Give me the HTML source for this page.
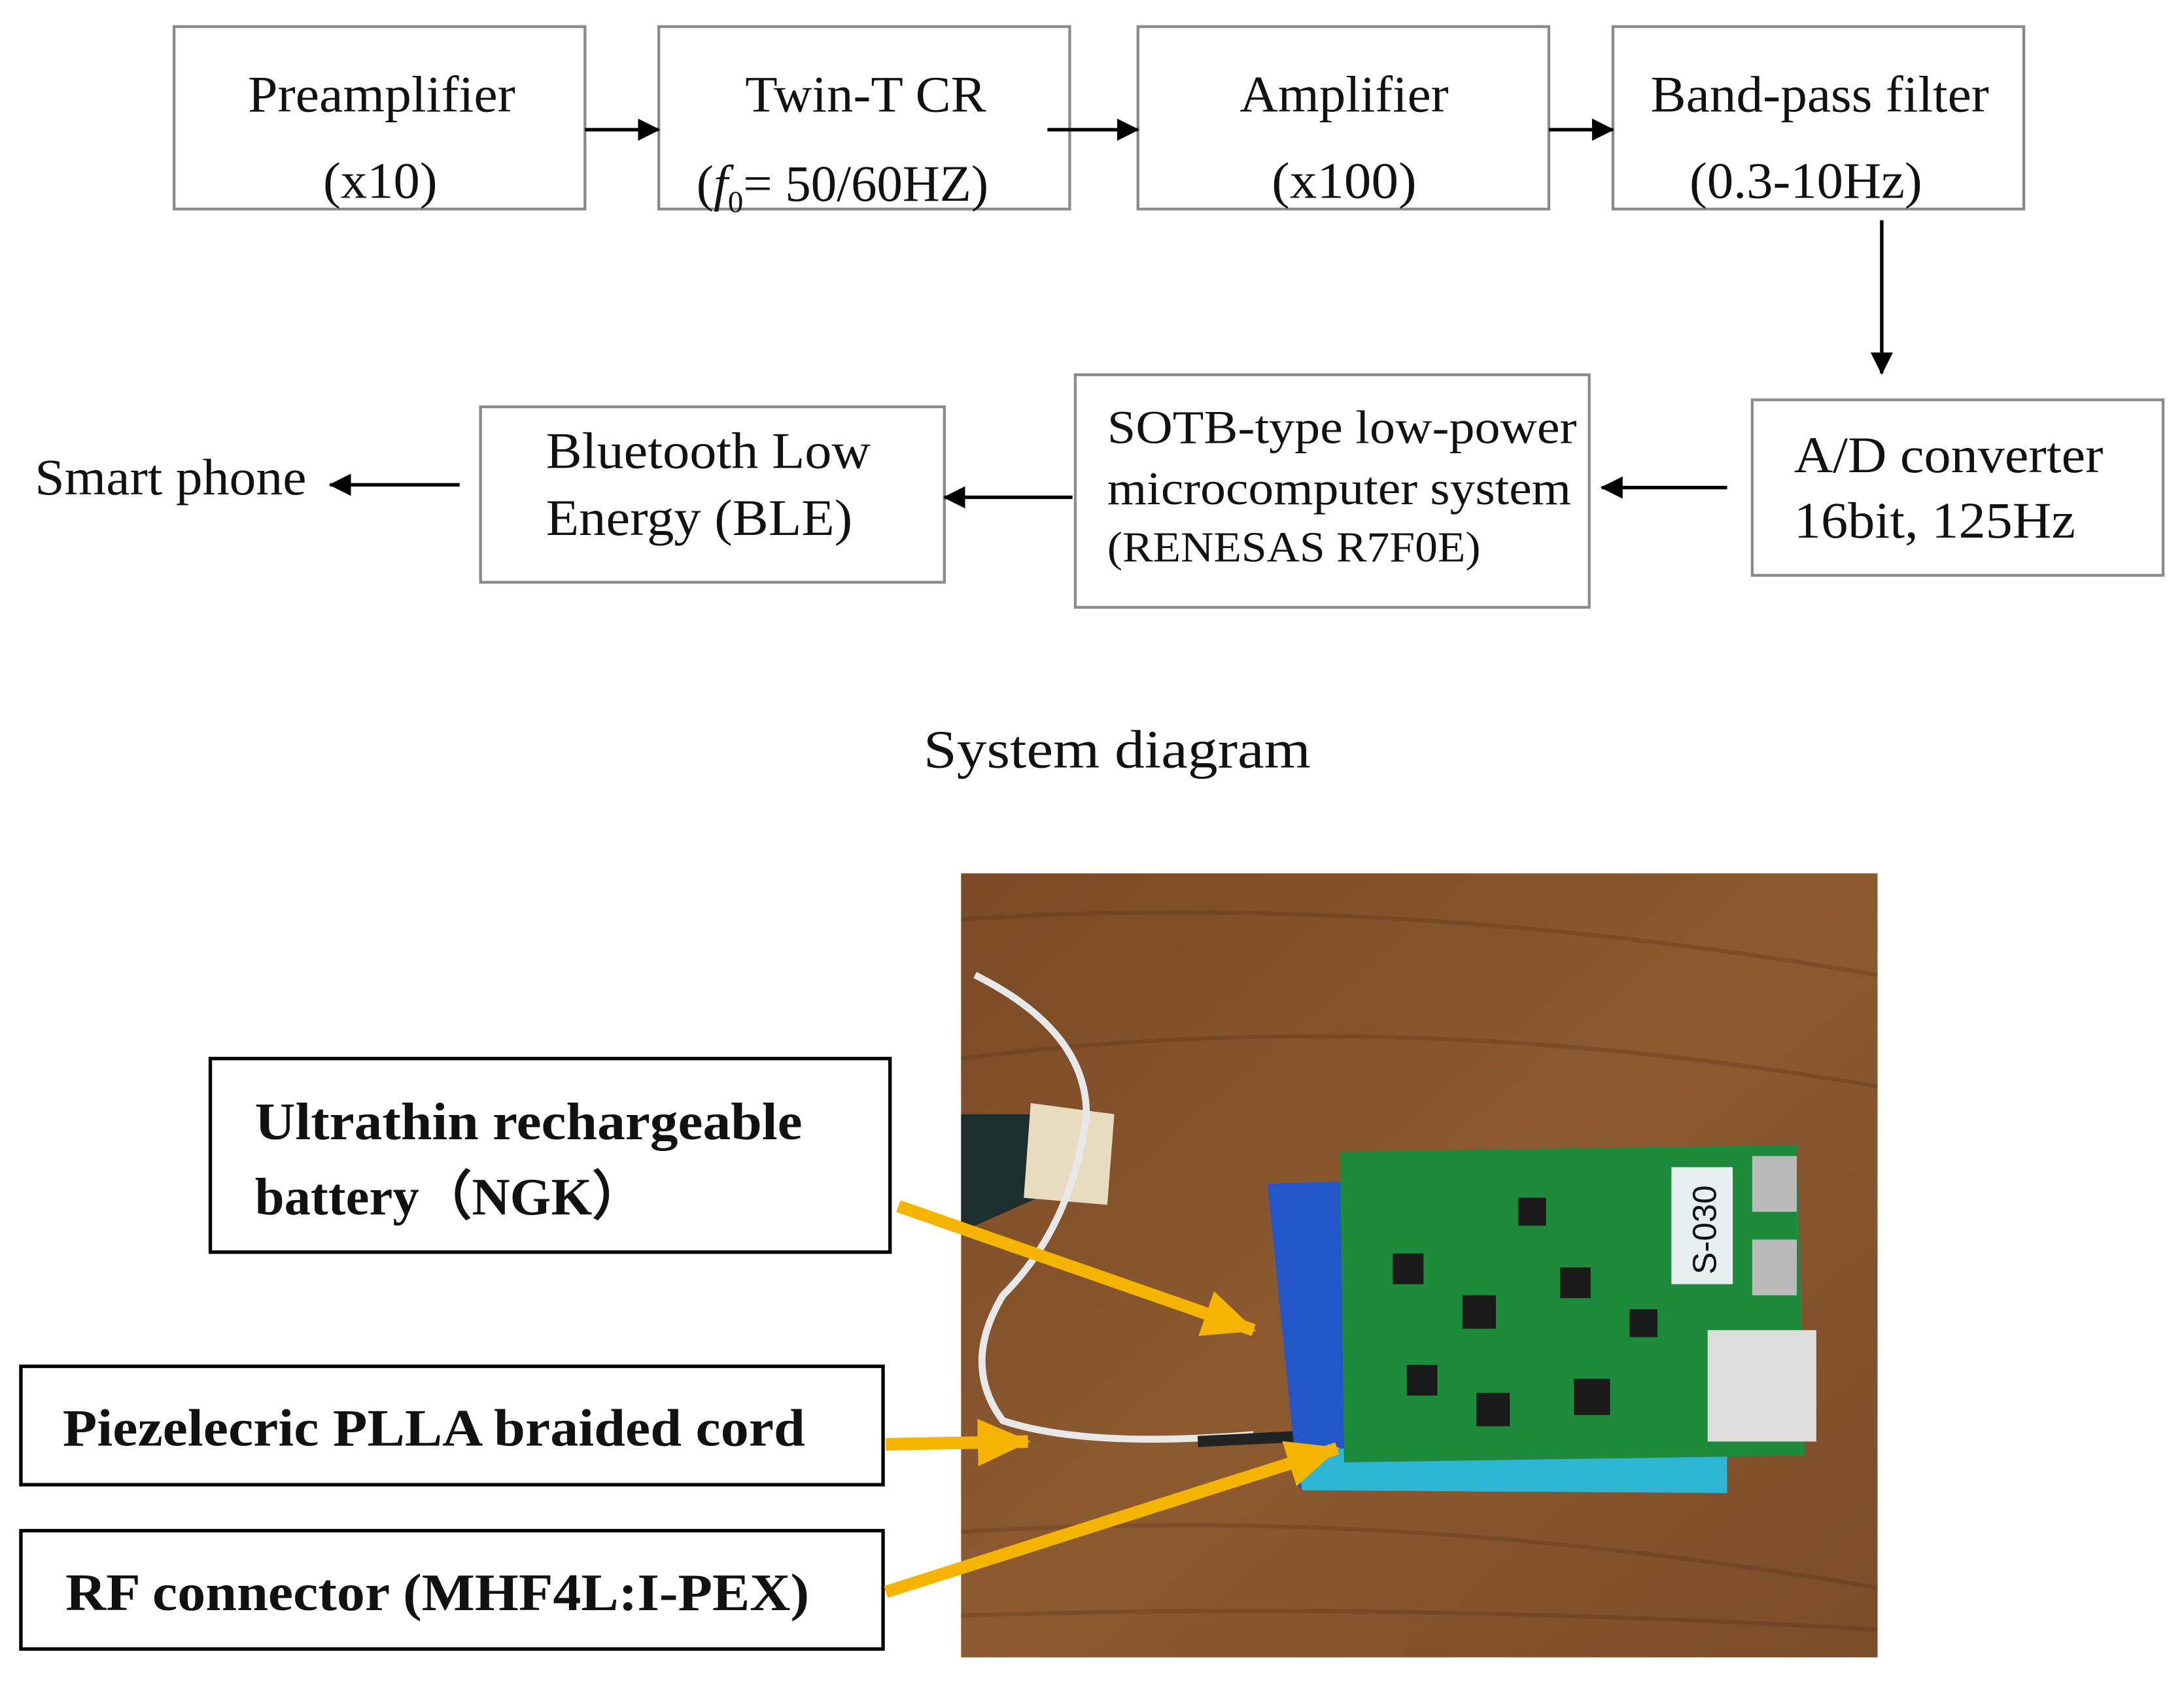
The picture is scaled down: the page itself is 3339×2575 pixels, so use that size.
<!DOCTYPE html>
<html><head><meta charset="utf-8"><style>
html,body{margin:0;padding:0;background:#fff;}
svg{display:block;}
text{font-family:"Liberation Serif",serif;fill:#111;}
</style></head><body>
<svg width="3339" height="2575" viewBox="0 0 1568 1209" xmlns="http://www.w3.org/2000/svg">
<defs>
<marker id="ah" markerWidth="16" markerHeight="16" refX="15" refY="8" orient="auto" markerUnits="userSpaceOnUse">
<path d="M0,0 L16,8 L0,16 z" fill="#000"/></marker>
<marker id="ya" markerWidth="40" markerHeight="34" refX="36" refY="17" orient="auto" markerUnits="userSpaceOnUse">
<path d="M0,0 L38,17 L0,34 z" fill="#f5b400"/></marker>
<linearGradient id="wood" x1="0" y1="0" x2="1" y2="1">
<stop offset="0" stop-color="#7a4a26"/><stop offset="0.5" stop-color="#8d5a30"/><stop offset="1" stop-color="#7b4c2a"/></linearGradient>
</defs>
<g fill="none" stroke="#8a8a8a" stroke-width="2">
<rect x="125" y="19" width="295" height="131"/>
<rect x="473" y="19" width="295" height="131"/>
<rect x="817" y="19" width="295" height="131"/>
<rect x="1158" y="19" width="295" height="131"/>
<rect x="1258" y="287" width="295" height="126"/>
<rect x="772" y="269" width="369" height="167"/>
<rect x="345" y="292" width="333" height="126"/>
</g>
<g stroke="#000" stroke-width="2.5" marker-end="url(#ah)">
<line x1="420" y1="93" x2="473" y2="93"/>
<line x1="752" y1="93" x2="817" y2="93"/>
<line x1="1112" y1="93" x2="1158" y2="93"/>
<line x1="1351" y1="158" x2="1351" y2="268"/>
<line x1="1240" y1="350" x2="1150" y2="350"/>
<line x1="770" y1="357" x2="678" y2="357"/>
<line x1="330" y1="348" x2="237" y2="348"/>
</g>
<g font-size="37" lengthAdjust="spacingAndGlyphs">
<text x="178" y="80" textLength="192" lengthAdjust="spacingAndGlyphs">Preamplifier</text>
<text x="232" y="142" textLength="82" lengthAdjust="spacingAndGlyphs">(x10)</text>
<text x="535" y="80" textLength="173" lengthAdjust="spacingAndGlyphs">Twin-T CR</text>
<text x="500" y="144">(<tspan font-style="italic">f</tspan><tspan font-size="22" dy="8">0</tspan><tspan dy="-8">= 50/60HZ)</tspan></text>
<text x="890" y="80" textLength="150" lengthAdjust="spacingAndGlyphs">Amplifier</text>
<text x="913" y="142" textLength="104" lengthAdjust="spacingAndGlyphs">(x100)</text>
<text x="1185" y="80" textLength="243" lengthAdjust="spacingAndGlyphs">Band-pass filter</text>
<text x="1213" y="142" textLength="167" lengthAdjust="spacingAndGlyphs">(0.3-10Hz)</text>
<text x="1288" y="339" textLength="222" lengthAdjust="spacingAndGlyphs">A/D converter</text>
<text x="1288" y="386" textLength="202" lengthAdjust="spacingAndGlyphs">16bit, 125Hz</text>
<text x="795" y="318" font-size="34" textLength="337" lengthAdjust="spacingAndGlyphs">SOTB-type low-power</text>
<text x="795" y="362" font-size="34" textLength="333" lengthAdjust="spacingAndGlyphs">microcomputer system</text>
<text x="795" y="403" font-size="31" textLength="268" lengthAdjust="spacingAndGlyphs">(RENESAS R7F0E)</text>
<text x="392" y="336" textLength="233" lengthAdjust="spacingAndGlyphs">Bluetooth Low</text>
<text x="392" y="384" textLength="220" lengthAdjust="spacingAndGlyphs">Energy (BLE)</text>
<text x="25" y="355" textLength="195" lengthAdjust="spacingAndGlyphs">Smart phone</text>
<text x="663" y="551" font-size="39" textLength="278" lengthAdjust="spacingAndGlyphs">System diagram</text>
</g>

<!-- photo -->
<rect x="690" y="627" width="658" height="563" fill="url(#wood)"/>
<g opacity="0.25" stroke="#4a2a12" stroke-width="3" fill="none">
<path d="M690,660 Q1000,640 1348,700"/><path d="M690,760 Q1000,720 1348,780"/>
<path d="M690,1100 Q1000,1080 1348,1140"/><path d="M690,1160 Q1000,1150 1348,1170"/>
</g>
<path d="M690,800 L745,800 L745,860 L700,880 L690,880 z" fill="#1d2f2c"/>
<path d="M740,792 L800,800 L795,865 L735,860 z" fill="#e8dcc0"/>
<path d="M700,700 Q780,740 780,800 Q770,880 720,930 Q690,980 720,1020 Q780,1040 900,1030" stroke="#e8e8e8" stroke-width="5" fill="none"/>
<path d="M860,1035 L960,1030" stroke="#222" stroke-width="8"/>
<path d="M910,850 L975,848 L985,1070 L932,1068 z" fill="#2356c8"/>
<path d="M930,1040 L1240,1040 L1240,1072 L935,1070 z" fill="#2db6d4"/>
<path d="M962,827 L1290,822 L1296,1045 L965,1050 z" fill="#1e8a3c"/>
<g fill="#1a1a1a">
<rect x="1000" y="900" width="22" height="22"/><rect x="1050" y="930" width="24" height="24"/>
<rect x="1090" y="860" width="20" height="20"/><rect x="1120" y="910" width="22" height="22"/>
<rect x="1010" y="980" width="22" height="22"/><rect x="1060" y="1000" width="24" height="24"/>
<rect x="1130" y="990" width="26" height="26"/><rect x="1170" y="940" width="20" height="20"/>
</g>
<rect x="1200" y="838" width="44" height="84" fill="#e6eef0"/>
<text x="1232" y="915" font-size="24" transform="rotate(-90 1232 915)" style="font-family:'Liberation Sans',sans-serif">S-030</text>
<rect x="1258" y="830" width="32" height="40" fill="#bbb"/><rect x="1258" y="890" width="32" height="40" fill="#bbb"/>
<rect x="1226" y="955" width="78" height="80" fill="#ddd"/>

<!-- labels -->
<g fill="#fff" stroke="#000" stroke-width="2.5">
<rect x="151" y="760" width="488" height="139"/>
<rect x="15" y="981" width="619" height="85"/>
<rect x="15" y="1099" width="619" height="85"/>
</g>
<g font-size="38" font-weight="bold">
<text x="183" y="818" textLength="393" lengthAdjust="spacingAndGlyphs">Ultrathin rechargeable</text>
<text x="183" y="872" textLength="280" lengthAdjust="spacingAndGlyphs">battery（NGK）</text>
<text x="45" y="1038" textLength="533" lengthAdjust="spacingAndGlyphs">Piezelecric PLLA braided cord</text>
<text x="47" y="1156" textLength="534" lengthAdjust="spacingAndGlyphs">RF connector (MHF4L:I-PEX)</text>
</g>
<g stroke="#f5b400" stroke-width="9" marker-end="url(#ya)">
<line x1="645" y1="866" x2="900" y2="955"/>
<line x1="636" y1="1037" x2="738" y2="1035"/>
<line x1="636" y1="1143" x2="960" y2="1040"/>
</g>
</svg>
</body></html>
